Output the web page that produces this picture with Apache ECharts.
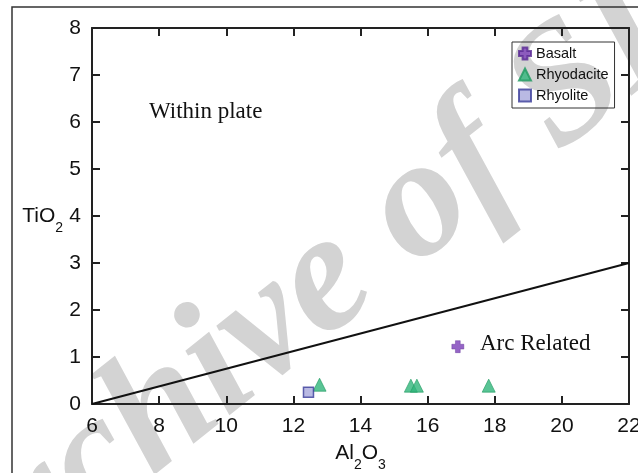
<!DOCTYPE html>
<html>
<head>
<meta charset="utf-8">
<script src="https://cdn.jsdelivr.net/npm/echarts@6/dist/echarts.min.js"></script>
<style>
  html, body { margin: 0; padding: 0; background: #fff; }
  #chart { width: 638px; height: 473px; }
</style>
</head>
<body>
<div id="chart"></div>
<script>
// data (Al2O3 vs TiO2)
var basalt = [[16.9, 1.22]];
var rhyodacite = [[12.78, 0.41], [15.5, 0.39], [15.68, 0.39], [17.82, 0.39]];
var rhyolite = [[12.45, 0.25]];
var divideLine = [[6, 0], [22, 3]];
var xTicks = [6, 8, 10, 12, 14, 16, 18, 20, 22];

var chart = echarts.init(document.getElementById('chart'));

var plusPath = 'path://M3,0 H7 V3 H10 V7 H7 V10 H3 V7 H0 V3 H3 Z';
var axisCol = '#222';
var sansFont = 'Liberation Sans, Arial, sans-serif';
var serifFont = 'Liberation Serif, Times New Roman, serif';

// rich styles for the chemical formula names (subscripts pushed down with padding)
var formulaRich = {
  a: { fontFamily: sansFont, fontSize: 21, color: '#111', lineHeight: 24 },
  s: { fontFamily: sansFont, fontSize: 14, color: '#111', lineHeight: 14, padding: [24, 0, 0, 0] }
};

var option = {
  animation: false,
  backgroundColor: '#fff',
  grid: { left: 92, right: 9, top: 28, bottom: 69, outerBoundsMode: 'none' },
  legend: {
    orient: 'vertical',
    left: 512,
    top: 42,
    padding: [4, 6, 5, 6],
    itemGap: 6,
    itemWidth: 12,
    itemHeight: 12,
    borderColor: '#333',
    borderWidth: 1,
    textStyle: { fontFamily: sansFont, fontSize: 14.5, color: '#111' },
    data: ['Basalt', 'Rhyodacite', 'Rhyolite']
  },
  xAxis: [{
    type: 'value', min: 6, max: 22, interval: 2,
    name: '{a|Al}{s|2}{a|O}{s|3}',
    nameLocation: 'middle', nameGap: 37, nameMoveOverlap: false,
    nameTextStyle: { rich: formulaRich },
    axisLine: { show: true, onZero: false, lineStyle: { color: axisCol, width: 2 } },
    axisTick: { show: true, inside: true, length: 8, lineStyle: { color: axisCol, width: 2 } },
    axisLabel: {
      margin: 12, color: '#111', fontFamily: sansFont, fontSize: 21,
      showMinLabel: true, showMaxLabel: true,
      customValues: xTicks
    },
    splitLine: { show: false }
  }, {
    type: 'value', position: 'top', min: 6, max: 22, interval: 2,
    axisLine: { show: true, onZero: false, lineStyle: { color: axisCol, width: 2 } },
    axisTick: { show: true, inside: true, length: 8, lineStyle: { color: axisCol, width: 2 } },
    axisLabel: { show: false },
    splitLine: { show: false }
  }],
  yAxis: [{
    type: 'value', min: 0, max: 8, interval: 1,
    name: '{a|TiO}{s|2}',
    nameLocation: 'middle', nameGap: 29, nameRotate: 0, nameMoveOverlap: false,
    nameTextStyle: { align: 'right', rich: formulaRich },
    axisLine: { show: true, onZero: false, lineStyle: { color: axisCol, width: 2 } },
    axisTick: { show: true, inside: true, length: 8, lineStyle: { color: axisCol, width: 2 } },
    axisLabel: { margin: 11, color: '#111', fontFamily: sansFont, fontSize: 21 },
    splitLine: { show: false }
  }, {
    type: 'value', position: 'right', min: 0, max: 8, interval: 1,
    axisLine: { show: true, onZero: false, lineStyle: { color: axisCol, width: 2 } },
    axisTick: { show: true, inside: true, length: 8, lineStyle: { color: axisCol, width: 2 } },
    axisLabel: { show: false },
    splitLine: { show: false }
  }],
  graphic: [
    {
      // archive watermark across the figure
      type: 'text', z: -10, silent: true,
      x: 339, y: 272, rotation: 38.5 * Math.PI / 180,
      style: {
        text: 'Archive of SID',
        x: 0, y: 0,
        align: 'center', verticalAlign: 'middle',
        font: 'italic bold 170px ' + serifFont,
        fill: '#d3d3d3'
      }
    },
    {
      type: 'rect', z: 100, silent: true,
      shape: { x: 12, y: 7, width: 700, height: 500 },
      style: { fill: 'none', stroke: '#333', lineWidth: 1.5 }
    },
    {
      type: 'text', z: 100, left: 149, top: 100,
      style: { text: 'Within plate', font: '23px ' + serifFont, fill: '#111' }
    },
    {
      type: 'text', z: 100, left: 480, top: 332,
      style: { text: 'Arc Related', font: '23px ' + serifFont, fill: '#111' }
    }
  ],
  series: [
    {
      name: 'boundary', type: 'line', data: divideLine,
      symbol: 'none', silent: true,
      lineStyle: { color: '#111', width: 2 }
    },
    {
      name: 'Basalt', type: 'scatter', data: basalt,
      symbol: plusPath, symbolSize: 12,
      itemStyle: { color: '#7a3db8', borderColor: '#5a2a94', borderWidth: 0.5 }
    },
    {
      name: 'Rhyodacite', type: 'scatter', data: rhyodacite,
      symbol: 'triangle', symbolSize: 13,
      itemStyle: { color: '#2fb57a', borderColor: '#1f9a60', borderWidth: 0.8 }
    },
    {
      name: 'Rhyolite', type: 'scatter', data: rhyolite,
      symbol: 'rect', symbolSize: 10,
      itemStyle: { color: '#a7a8dc', borderColor: '#3a3c9a', borderWidth: 1.5 }
    }
  ]
};

chart.setOption(option);
</script>
</body>
</html>
